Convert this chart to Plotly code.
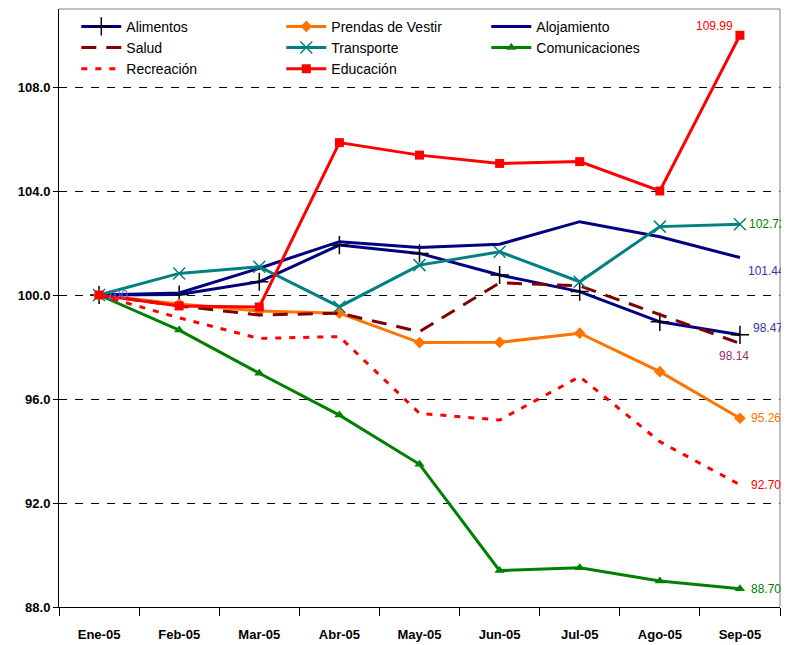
import plotly.graph_objects as go

months = ["Ene-05", "Feb-05", "Mar-05", "Abr-05", "May-05", "Jun-05", "Jul-05", "Ago-05", "Sep-05"]

alimentos = [100.0, 100.02, 100.51, 101.92, 101.60, 100.77, 100.13, 98.97, 98.47]
prendas = [100.0, 99.65, 99.38, 99.30, 98.17, 98.18, 98.53, 97.05, 95.26]
alojamiento = [100.0, 100.08, 101.03, 102.05, 101.83, 101.95, 102.82, 102.24, 101.44]
salud = [100.0, 99.58, 99.23, 99.30, 98.59, 100.47, 100.35, 99.23, 98.14]
transporte = [100.0, 100.83, 101.09, 99.55, 101.15, 101.66, 100.51, 102.63, 102.72]
comunicaciones = [100.0, 98.65, 96.99, 95.38, 93.49, 89.40, 89.51, 89.00, 88.70]
recreacion = [100.0, 99.12, 98.33, 98.40, 95.45, 95.19, 96.86, 94.36, 92.70]
educacion = [100.0, 99.58, 99.54, 105.86, 105.38, 105.06, 105.13, 104.00, 109.99]

y_ticks = [88, 92, 96, 100, 104, 108]

fig = go.Figure()

def add(name, vals, color, dash="solid", symbol=None, msize=9, mline=None, mcolor=None):
    mode = "lines+markers" if symbol else "lines"
    marker = dict()
    if symbol:
        marker = dict(symbol=symbol, size=msize, color=mcolor or color,
                      line=dict(color=mline or color, width=1.5 if mline else 0))
    fig.add_trace(go.Scatter(x=months, y=vals, name=name, mode=mode,
                             line=dict(color=color, width=3, dash=dash),
                             marker=marker))

add("Alimentos", alimentos, "#000080", symbol="cross-thin", msize=13, mline="#000000")
add("Prendas de Vestir", prendas, "#FF7300", symbol="diamond", msize=9)
add("Alojamiento", alojamiento, "#000080")
add("Salud", salud, "#800000", dash="15px,10px")
add("Transporte", transporte, "#008080", symbol="x-thin", msize=12, mline="#008080")
add("Comunicaciones", comunicaciones, "#008000", symbol="triangle-up", msize=9)
add("Recreación", recreacion, "#FF0000", dash="6px,8px")
add("Educación", educacion, "#FF0000", symbol="square", msize=9)

lab_font = dict(family="Liberation Sans, Arial", size=12)
labels = [
    (educacion, "109.99", "#FF0000", "center", -25, 9),
    (transporte, "102.72", "#008000", "left", 7, 0),
    (alojamiento, "101.44", "#3333AA", "left", 6, -13),
    (alimentos, "98.47", "#3333AA", "left", 11, 7),
    (salud, "98.14", "#993366", "center", -6, -13),
    (prendas, "95.26", "#FF7300", "left", 9, 0),
    (recreacion, "92.70", "#FF0000", "left", 9, 0),
    (comunicaciones, "88.70", "#008000", "left", 9, 0),
]
for vals, txt, col, anchor, xs, ys in labels:
    fig.add_annotation(x=months[-1], y=vals[-1], text=txt, showarrow=False,
                       xanchor=anchor, xshift=xs, yshift=ys,
                       font=dict(lab_font, color=col))
fig.add_annotation(x=months[0], y=alojamiento[0], text="100", showarrow=False,
                   xshift=18, yshift=0, font=dict(family="Liberation Sans, Arial",
                                                  size=12.5, color="#6666CC"))

fig.add_shape(type="line", xref="paper", yref="paper", x0=0, x1=1, y0=1, y1=1,
              line=dict(color="#808080", width=1))
fig.add_shape(type="line", xref="paper", yref="paper", x0=1, x1=1, y0=0, y1=1,
              line=dict(color="#808080", width=1))

# page body has an 8px default margin, so the figure is sized to fit the window
fig.update_layout(
    width=781, height=637,
    margin=dict(l=51, r=9, t=1, b=38),
    paper_bgcolor="white", plot_bgcolor="white",
    font=dict(family="Liberation Sans, Arial", color="black"),
    showlegend=True,
    legend=dict(orientation="h", x=0.024, y=0.997, xanchor="left", yanchor="top",
                entrywidth=150, entrywidthmode="pixels",
                font=dict(size=14, family="Liberation Sans, Arial"),
                bgcolor="rgba(0,0,0,0)", itemwidth=40, tracegroupgap=0),
    xaxis=dict(type="category", range=[-0.5, 8.5], showline=True, linecolor="black",
               linewidth=1, ticks="outside", tickson="boundaries", ticklen=8,
               tickcolor="black", showgrid=False, automargin=False,
               ticklabelstandoff=15,
               tickfont=dict(size=13, family="Liberation Sans, Arial", weight="bold")),
    yaxis=dict(range=[88, 111.0], tickvals=y_ticks, tickformat=".1f",
               showline=True, linecolor="black", linewidth=1, ticks="outside",
               ticklen=5, tickcolor="black", showgrid=True, gridcolor="black",
               gridwidth=1, griddash="8px,8px", zeroline=False, automargin=False,
               tickfont=dict(size=13, family="Liberation Sans, Arial", weight="bold")),
)

fig.write_html("out.html")
